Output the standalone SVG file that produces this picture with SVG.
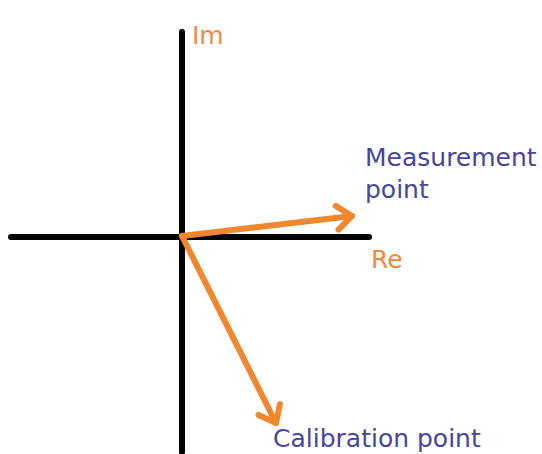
<svg xmlns="http://www.w3.org/2000/svg" width="542" height="454" viewBox="0 0 542 454">
<style>
.axis{stroke:#000;stroke-width:6;stroke-linecap:round;fill:none}
.vec{stroke:#f0862e;stroke-width:6;stroke-linecap:round;fill:none}
.lbl{font-family:"DejaVu Sans",Verdana,sans-serif;font-size:25px}
.or{fill:#ef8a3e}
.bl{fill:#4545a5}
</style>
<defs>
<marker id="head" markerUnits="userSpaceOnUse" markerWidth="40" markerHeight="40" viewBox="-20 -20 40 40" refX="0" refY="0" orient="auto">
<path d="M-15,-12 L0,0 L-15,12" stroke="#f0862e" stroke-width="6" stroke-linecap="round" stroke-linejoin="round" fill="none"/>
</marker>
</defs>
<g id="axes">
<line id="re-axis" class="axis" x1="11" y1="237" x2="369" y2="237"/>
<line id="im-axis" class="axis" x1="182" y1="32" x2="182" y2="452"/>
</g>
<g id="connectors">
<line class="vec" x1="182" y1="236" x2="352" y2="216" marker-end="url(#head)"/>
<line class="vec" x1="182" y1="236" x2="276" y2="423" marker-end="url(#head)"/>
</g>
<g id="im-label"><text class="lbl or" x="192" y="44">Im</text></g>
<g id="re-label"><text class="lbl or" x="371" y="268">Re</text></g>
<g id="measurement"><text class="lbl bl" x="365" y="166">Measurement</text><text class="lbl bl" x="365" y="198">point</text></g>
<g id="calibration"><text class="lbl bl" x="273" y="447">Calibration point</text></g>
</svg>
